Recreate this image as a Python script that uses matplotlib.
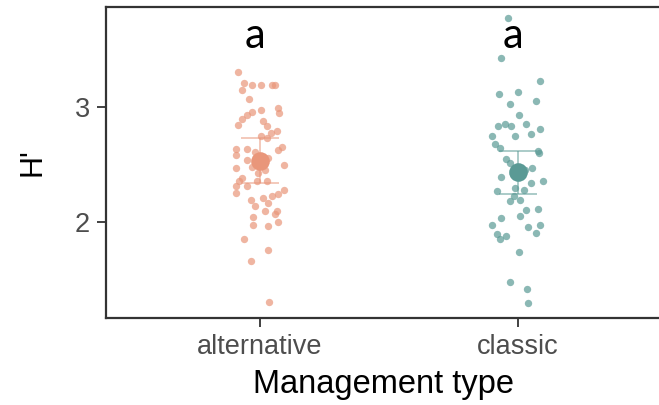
"""Jittered H' values by management type, with mean +/- error bars."""

import matplotlib
matplotlib.use("Agg")
import matplotlib.pyplot as plt
import numpy as np

plt.rcParams["font.family"] = ["Liberation Sans", "DejaVu Sans"]

categories = ["alternative", "classic"]
colors = ["#E9967A", "#5A9A95"]
letters = ["a", "a"]

# jitter offsets (category units) and H' values
alt_dx = [-0.086, -0.061, -0.032, 0.003, 0.048, 0.058, -0.069, -0.043, 0.071, 0.074,
          0.004, -0.032, -0.052, -0.071, -0.086, 0.010, 0.026, 0.067, 0.041, 0.003,
          0.028, 0.084, 0.071, -0.094, -0.052, -0.094, 0.093, -0.094, -0.069, -0.007,
          -0.080, -0.052, -0.094, -0.094, -0.013, 0.028, 0.094, 0.071, 0.045, 0.013,
          -0.035, 0.032, -0.019, 0.067, 0.019, 0.058, -0.026, -0.026, 0.030, 0.071,
          -0.061, 0.030, -0.035, 0.036, -0.052, -0.019, 0.031, -0.031, 0.019]
alt_h = [3.307, 3.211, 3.190, 3.190, 3.190, 3.190, 3.147, 3.066, 2.993, 2.949,
         2.972, 2.955, 2.928, 2.891, 2.847, 2.882, 2.838, 2.795, 2.775, 2.751,
         2.728, 2.652, 2.623, 2.635, 2.635, 2.585, 2.492, 2.469, 2.382, 2.425,
         2.358, 2.314, 2.314, 2.251, 2.352, 2.352, 2.279, 2.242, 2.221, 2.207,
         2.192, 2.163, 2.134, 2.090, 2.090, 2.067, 2.038, 1.974, 1.959, 1.997,
         1.852, 1.755, 1.659, 1.299, 2.541, 2.611, 2.559, 2.480, 2.454]

cla_dx = [-0.038, -0.066, 0.085, -0.001, -0.074, 0.069, -0.031, 0.005, -0.080, -0.050,
          -0.027, 0.031, 0.085, -0.102, -0.014, 0.049, -0.089, -0.070, 0.081, 0.075,
          -0.048, -0.031, 0.053, -0.066, 0.096, 0.049, -0.083, 0.021, -0.016, -0.031,
          0.008, 0.031, 0.076, 0.008, -0.066, -0.102, 0.040, 0.085, 0.069, -0.083,
          -0.047, -0.072, 0.005, -0.031, 0.034, 0.040, -0.019, 0.027, -0.012]
cla_h = [3.773, 3.424, 3.231, 3.133, 3.109, 3.051, 3.028, 2.926, 2.832, 2.853,
         2.832, 2.853, 2.810, 2.751, 2.751, 2.766, 2.679, 2.644, 2.600, 2.614,
         2.548, 2.513, 2.469, 2.390, 2.352, 2.338, 2.271, 2.279, 2.221, 2.177,
         2.192, 2.099, 2.111, 2.052, 2.032, 1.974, 1.950, 1.974, 1.901, 1.893,
         1.872, 1.849, 1.732, 1.470, 1.412, 1.295, 2.419, 2.454, 2.297]

# group mean and error bar limits
means = [2.53, 2.43]
err_lo = [2.34, 2.245]
err_hi = [2.73, 2.62]


def main() -> int:
    fig = plt.figure(figsize=(6.59, 4.05), dpi=100)
    # panel runs past the right edge of the picture, as in the original
    ax = fig.add_axes([106 / 659, 87 / 405, 567 / 659, 311 / 405])

    groups = [(alt_dx, alt_h), (cla_dx, cla_h)]
    for i, (dx, h) in enumerate(groups):
        x = i + 1 + np.array(dx)
        ax.scatter(x, h, s=28, color=colors[i], alpha=0.7, linewidths=0, zorder=2)
        ax.vlines(i + 1, err_lo[i], err_hi[i], color=colors[i], alpha=0.6, lw=1.2, zorder=3)
        ax.hlines([err_lo[i], err_hi[i]], i + 1 - 0.074, i + 1 + 0.074,
                  color=colors[i], alpha=0.6, lw=1.2, zorder=3)
        ax.scatter([i + 1], [means[i]], s=180, color=colors[i], linewidths=0, zorder=4)
        ax.text(i + 0.98, 3.62, letters[i], ha="center", va="center",
                fontsize=30, family="Lato", color="black")

    ax.set_xlim(0.403, 2.6)
    ax.set_ylim(1.16, 3.872)
    ax.set_xticks([1, 2])
    ax.set_xticklabels(categories)
    ax.set_yticks([2, 3])
    ax.set_yticklabels(["2", "3"])

    for s in ax.spines.values():
        s.set_linewidth(1.6)
        s.set_color("#333333")
    ax.spines["right"].set_visible(False)
    ax.tick_params(axis="both", length=6.5, width=1.3, color="#333333",
                   labelcolor="#4D4D4D", labelsize=19.5, pad=5)

    ax.set_xlabel("Management type", fontsize=23.5, color="black")
    ax.xaxis.set_label_coords(0.49, -0.214)
    ax.xaxis.label.set_va("center")
    ax.set_ylabel("H'", fontsize=22, color="black")
    ax.yaxis.set_label_coords(-0.129, 0.502)
    ax.yaxis.label.set_va("center")

    fig.savefig("out.png", dpi=100)
    return 0


if __name__ == "__main__":
    raise SystemExit(main())
